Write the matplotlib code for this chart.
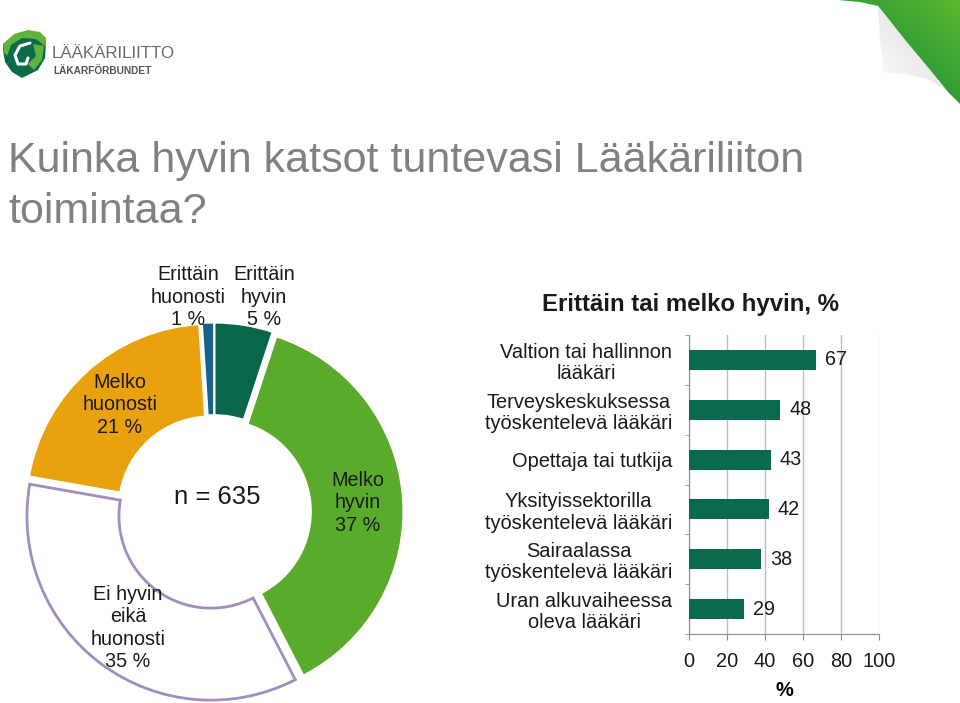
import numpy as np
import matplotlib.pyplot as plt
from matplotlib.patches import Polygon
from matplotlib.colors import LinearSegmentedColormap

plt.rcParams['font.family'] = ['Liberation Sans', 'DejaVu Sans']

# ---------- data ----------
donut_labels = ["Erittäin\nhyvin\n5 %", "Melko\nhyvin\n37 %", "Ei hyvin\neikä\nhuonosti\n35 %",
                "Melko\nhuonosti\n21 %", "Erittäin\nhuonosti\n1 %"]
donut_values = [5, 37, 35, 21, 1]
donut_colors = ["#08664b", "#5aab2b", "#ffffff", "#e9a10d", "#17628a"]
donut_n = "n = 635"

bar_categories = ["Valtion tai hallinnon\nlääkäri",
                  "Terveyskeskuksessa\ntyöskentelevä lääkäri",
                  "Opettaja tai tutkija",
                  "Yksityissektorilla\ntyöskentelevä lääkäri",
                  "Sairaalassa\ntyöskentelevä lääkäri",
                  "Uran alkuvaiheessa\noleva lääkäri"]
bar_values = [67, 48, 43, 42, 38, 29]
x_ticks = [0, 20, 40, 60, 80, 100]

W, H = 960, 703
fig = plt.figure(figsize=(W / 100, H / 100), dpi=100)

# ---------- decorations (pixel coords) ----------
deco = fig.add_axes([0, 0, 1, 1], zorder=0)
deco.set_xlim(0, W)
deco.set_ylim(H, 0)
deco.axis('off')

# page curl corner
green_poly = Polygon([(838, 0), (960, 0), (960, 104), (948, 92), (930, 70), (905, 40),
                      (886, 16), (878, 6), (860, 2)], closed=True, facecolor='none', edgecolor='none')
deco.add_patch(green_poly)
gx, gy = np.meshgrid(np.linspace(0, 1, 200), np.linspace(0, 1, 200))
gcmap = LinearSegmentedColormap.from_list("corner", ["#5cb82e", "#2e9a36", "#0d7a3c"])
im = deco.imshow((1 - gx) * 0.6 + gy * 0.6, extent=(830, 960, 110, 0), cmap=gcmap,
                 aspect='auto', zorder=1)
im.set_clip_path(green_poly)
fold_poly = Polygon([(878, 6), (886, 16), (905, 40), (930, 70), (948, 92), (930, 80),
                     (905, 74), (884, 72), (880, 40)], closed=True, facecolor='none', edgecolor='none')
deco.add_patch(fold_poly)
fcmap = LinearSegmentedColormap.from_list("fold", ["#ffffff", "#d4d4d4"])
im2 = deco.imshow(gx * 0.5 + (1 - gy) * 0.5, extent=(875, 950, 95, 0), cmap=fcmap,
                  aspect='auto', zorder=1)
im2.set_clip_path(fold_poly)
deco.set_xlim(0, W)
deco.set_ylim(H, 0)

# logo
deco.add_patch(Polygon([(3, 44), (14, 37), (28, 34), (40, 37), (46, 43), (45, 58), (38, 70),
                        (22, 78), (12, 72), (5, 62), (3, 50)], closed=True,
                       facecolor="#0b6a4a", edgecolor='none', zorder=2))
deco.add_patch(Polygon([(3, 44), (14, 34), (28, 30), (40, 32), (46, 38), (46, 47), (36, 39),
                        (22, 38), (11, 45), (7, 56), (4, 52)], closed=True,
                       facecolor="#5fb33a", edgecolor='none', zorder=3))
deco.add_patch(Polygon([(33, 44), (44, 46), (42, 60), (34, 70), (28, 64), (36, 56)], closed=True,
                       facecolor="#5fb33a", edgecolor='none', zorder=3))
deco.plot([30, 20, 15, 18, 26, 28], [43, 46, 55, 64, 64, 58], color='white', lw=2.2,
          solid_capstyle='round', zorder=4)
deco.text(52, 58, "LÄÄKÄRILIITTO", fontsize=12.2, color="#6a6a6a", va='baseline', zorder=4)
deco.text(53, 74, "LÄKARFÖRBUNDET", fontsize=7.3, color="#555555", fontweight='bold',
          va='baseline', zorder=4)

# title
fig.text(8 / W, 1 - 172 / H, "Kuinka hyvin katsot tuntevasi Lääkäriliiton",
         fontsize=31, color="#808080", va='baseline', ha='left')
fig.text(8 / W, 1 - 223 / H, "toimintaa?", fontsize=31, color="#808080",
         va='baseline', ha='left')

# ---------- donut ----------
cx, cy, R = 214, 512, 184
half = 1.15 * R
ax1 = fig.add_axes([(cx - half) / W, (H - cy - half) / H, 2 * half / W, 2 * half / H])
wedges, _ = ax1.pie(donut_values, colors=donut_colors, startangle=90, counterclock=False,
                    radius=1, explode=[0.028] * len(donut_values),
                    wedgeprops=dict(width=0.5, edgecolor='white', linewidth=1))
wedges[2].set_edgecolor("#a28dc0")
wedges[2].set_linewidth(2)
ax1.set_xlim(-1.15, 1.15)
ax1.set_ylim(-1.15, 1.15)
ax1.set_aspect('equal')
ax1.axis('off')

label_pos = [(0.272, 1.168), (0.783, 0.049), (-0.467, -0.630), (-0.511, 0.582), (-0.141, 1.168)]
for lab, (lx, ly) in zip(donut_labels, label_pos):
    ax1.text(lx, ly, lab, ha='center', va='center', fontsize=14.2, color='#1a1a1a',
             linespacing=1.22, clip_on=False)
ax1.text(0.016, 0.082, donut_n, ha='center', va='center', fontsize=18.5, color='#1a1a1a')

# ---------- bar chart ----------
x0, x1, ytop, ybot = 689, 879, 335, 634
ax2 = fig.add_axes([x0 / W, (H - ybot) / H, (x1 - x0) / W, (ybot - ytop) / H])
ypos = np.arange(len(bar_categories))
ax2.barh(ypos, bar_values, height=0.4, color="#0a6a4f", zorder=3)
for yv, v in zip(ypos, bar_values):
    ax2.annotate(f"{v}", (v, yv), xytext=(6.5, 0), textcoords='offset points',
                 va='center', ha='left', fontsize=14.2, color='#1a1a1a')
ax2.set_xlim(0, 100)
ax2.set_ylim(len(bar_categories) - 0.5, -0.5)
ax2.set_xticks(x_ticks)
ax2.set_xticklabels([str(t) for t in x_ticks])
ax2.set_yticks(ypos)
ax2.set_yticklabels(bar_categories, ha='right', multialignment='center', linespacing=1.15)
ax2.set_yticks(np.arange(-0.5, len(bar_categories), 1.0), minor=True)
ax2.tick_params(axis='y', which='major', length=0, pad=12, labelsize=14.4, labelcolor='#1a1a1a')
ax2.tick_params(axis='y', which='minor', length=3, color='#8c8c8c', direction='out')
ax2.tick_params(axis='x', length=4, color='#8c8c8c', direction='out', pad=9,
                labelsize=14.4, labelcolor='#1a1a1a')
ax2.xaxis.grid(True, color='#bdbdbd', linewidth=1)
ax2.set_axisbelow(True)
for s in ['top', 'right']:
    ax2.spines[s].set_visible(False)
for s in ['left', 'bottom']:
    ax2.spines[s].set_color('#8c8c8c')
ax2.set_xlabel("%", fontsize=14.4, fontweight='bold', labelpad=7)

fig.text(691 / W, 1 - 304 / H, "Erittäin tai melko hyvin, %", fontsize=17.3,
         fontweight='bold', ha='center', va='center', color='#1a1a1a')

fig.savefig("out.png", dpi=100)
